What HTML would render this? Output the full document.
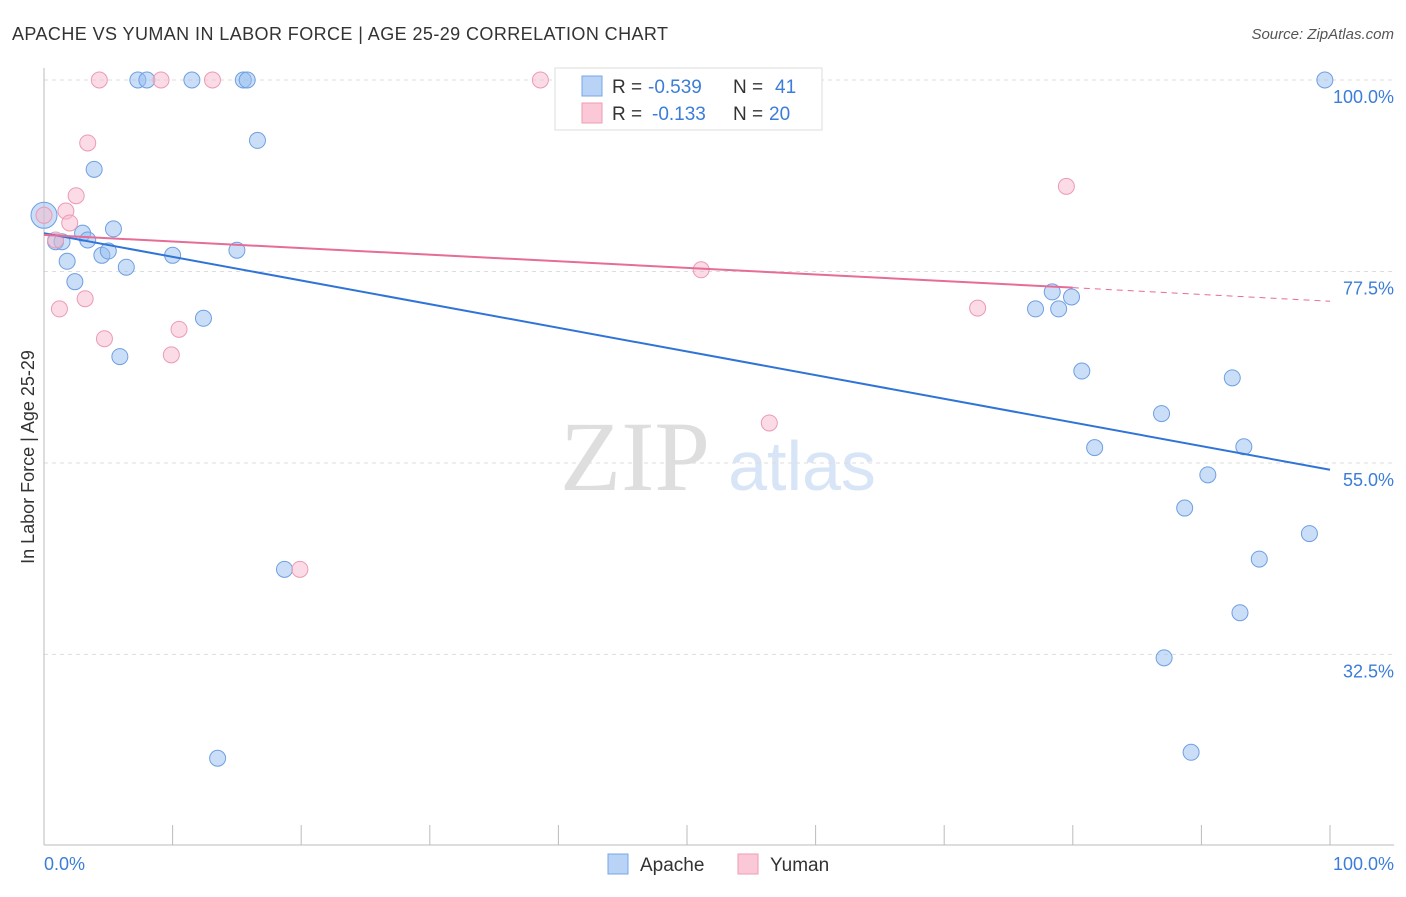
<!DOCTYPE html>
<html><head><meta charset="utf-8"><style>
body{margin:0;background:#fff;font-family:"Liberation Sans",sans-serif}
svg text{font-family:"Liberation Sans",sans-serif}
</style></head><body>
<svg width="1406" height="892" xmlns="http://www.w3.org/2000/svg">
<text x="12" y="40" font-size="18" fill="#333" textLength="656">APACHE VS YUMAN IN LABOR FORCE | AGE 25-29 CORRELATION CHART</text>
<text x="1394" y="39" font-size="15" fill="#555" font-style="italic" text-anchor="end">Source: ZipAtlas.com</text>
<text x="635" y="490" font-size="100" fill="#dedede" style="font-family:'Liberation Serif',serif" text-anchor="middle">ZIP</text>
<text x="802" y="490" font-size="70" fill="#d8e5f6" text-anchor="middle">atlas</text>
<g id="grid"></g><g id="axes"></g><g id="marks"></g>
<text transform="translate(34,457) rotate(-90)" font-size="18" fill="#333" text-anchor="middle">In Labor Force | Age 25-29</text>
<text x="44" y="870" font-size="18" fill="#3b7dd8">0.0%</text>
<text x="1394" y="870" font-size="18" fill="#3b7dd8" text-anchor="end">100.0%</text>
<g>
<rect x="555" y="68" width="267" height="62" fill="#fff" stroke="#ddd"/>
<rect x="582" y="76" width="20" height="20" fill="#b8d3f5" stroke="#7aa6e6"/>
<rect x="582" y="103" width="20" height="20" fill="#fac8d6" stroke="#ee9cb5"/>
<text x="612" y="93" font-size="19" fill="#333">R =</text>
<text x="648" y="93" font-size="19" fill="#3b7dd8">-0.539</text>
<text x="733" y="93" font-size="19" fill="#333">N =</text>
<text x="775" y="93" font-size="19" fill="#3b7dd8">41</text>
<text x="612" y="120" font-size="19" fill="#333">R =</text>
<text x="652" y="120" font-size="19" fill="#3b7dd8">-0.133</text>
<text x="733" y="120" font-size="19" fill="#333">N =</text>
<text x="769" y="120" font-size="19" fill="#3b7dd8">20</text>
</g>
<g>
<rect x="608" y="854" width="20" height="20" fill="#b8d3f5" stroke="#7aa6e6"/>
<text x="640" y="871" font-size="19" fill="#333">Apache</text>
<rect x="738" y="854" width="20" height="20" fill="#fac8d6" stroke="#ee9cb5"/>
<text x="770" y="871" font-size="19" fill="#333">Yuman</text>
</g>
</svg>
<script>
const yTicks=[100,77.5,55,32.5];
const yTickLabels=["100.0%","77.5%","55.0%","32.5%"];
const xTicks=[0,10,20,30,40,50,60,70,80,90,100];
const apacheX=[0,0.9,1.4,1.8,2.4,3.0,3.4,3.9,4.5,5.0,5.4,5.9,6.4,7.3,8.0,10.0,11.5,12.4,13.5,15.0,15.5,15.8,16.6,18.7,77.1,78.4,78.9,79.9,80.7,81.7,86.9,87.1,88.7,89.2,90.5,92.4,93.0,93.3,94.5,98.4,99.6];
const apacheY=[84.1,81.0,81.0,78.7,76.3,82.0,81.2,89.5,79.4,79.9,82.5,67.5,78.0,100,100,79.4,100,72.0,20.3,80.0,100,100,92.9,42.5,73.1,75.1,73.1,74.5,65.8,56.8,60.8,32.1,49.7,21.0,53.6,65.0,37.4,56.9,43.7,46.7,100];
const yumanX=[0,0.9,1.2,1.7,2.0,2.5,3.2,3.4,4.3,4.7,9.1,9.9,10.5,13.1,19.9,38.6,51.1,56.4,72.6,79.5];
const yumanY=[84.1,81.2,73.1,84.6,83.2,86.4,74.3,92.6,100,69.6,100,67.7,70.7,100,42.5,100,77.7,59.7,73.2,87.5];
const apacheTrend=[82.0,54.2];
const yumanTrend=[81.8,75.6,74.0];
const ns="http://www.w3.org/2000/svg";
const X=v=>44+v*12.86, Y=v=>80+(100-v)*8.51;
function mk(t,a,p){const e=document.createElementNS(ns,t);for(const k in a)e.setAttribute(k,a[k]);document.getElementById(p).appendChild(e);return e;}
yTicks.forEach((t,i)=>{
 const l=mk('line',{x1:44,x2:1394,y1:Y(t),y2:Y(t),stroke:'#ddd','stroke-dasharray':'4,4'},'grid');
 
 
 const tx=mk('text',{x:1394,y:Y(t)+23,'font-size':18,fill:'#3b7dd8','text-anchor':'end'},'grid');
 tx.textContent=yTickLabels[i];
 
 
});
let ax=mk('line',{x1:44,x2:44,y1:68,y2:845,stroke:'#bbb'},'axes');


ax=mk('line',{x1:44,x2:1394,y1:845,y2:845,stroke:'#bbb'},'axes');


xTicks.forEach(t=>{
 const l=mk('line',{x1:X(t),x2:X(t),y1:825,y2:845,stroke:'#bbb'},'axes');
 
 
});
apacheX.forEach((x,i)=>{
 const c=mk('circle',{cx:X(x),cy:Y(apacheY[i]),r:i==0?13:8,fill:'rgba(150,190,240,0.5)',stroke:'#6e9fe2','stroke-width':1},'marks');
 
 
});
yumanX.forEach((x,i)=>{
 const c=mk('circle',{cx:X(x),cy:Y(yumanY[i]),r:8,fill:'rgba(248,185,205,0.5)',stroke:'#ec9ab3','stroke-width':1},'marks');
 
 
});
let tl=mk('line',{x1:X(0),y1:Y(apacheTrend[0]),x2:X(100),y2:Y(apacheTrend[1]),stroke:'#2f74d6','stroke-width':2},'marks');


tl=mk('line',{x1:X(0),y1:Y(yumanTrend[0]),x2:X(80),y2:Y(yumanTrend[1]),stroke:'#e66d95','stroke-width':2},'marks');


tl=mk('line',{x1:X(80),y1:Y(yumanTrend[1]),x2:X(100),y2:Y(yumanTrend[2]),stroke:'#e66d95','stroke-width':1,'stroke-dasharray':'6,5'},'marks');


</script>
</body></html>
